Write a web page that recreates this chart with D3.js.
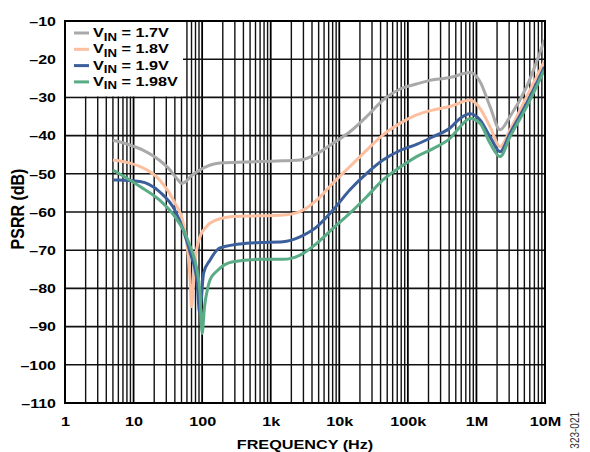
<!DOCTYPE html>
<html><head><meta charset="utf-8">
<script src="https://cdn.jsdelivr.net/npm/d3@7"></script>
<style>
html,body{margin:0;padding:0;background:#fff;}
svg{display:block;font-family:"Liberation Sans",Arial,sans-serif;}
</style></head>
<body>
<svg id="c" width="590" height="452"></svg>
<script>
// ---- data ----
const xTickValues = [1, 10, 100, 1e3, 1e4, 1e5, 1e6, 1e7];
const xTickLabels = ["1", "10", "100", "1k", "10k", "100k", "1M", "10M"];
const yTickValues = [-10, -20, -30, -40, -50, -60, -70, -80, -90, -100, -110];

const seriesNames = ["1.7V", "1.8V", "1.9V", "1.98V"];
const seriesColors = ["#a9a9a9", "#fcc0a0", "#3b5f9b", "#5aac86"];

const freq17 = [5, 8, 13.7, 20, 34, 44, 50, 58, 70, 93, 180, 700, 1500, 2670, 4690, 8090, 14300, 25100, 43400, 76800, 134000, 233000, 412000, 806000, 1.13e6, 1.58e6, 2.21e6, 3.09e6, 5.41e6, 9.8e6];
const psrr17 = [-41.2, -42.2, -43.8, -45.5, -49, -51.5, -52.5, -52, -50.5, -49, -47.2, -46.8, -46.6, -46.4, -44.8, -42, -39, -35, -30.7, -27.8, -26.5, -25.4, -24.8, -23.5, -25.9, -32.4, -38.5, -35, -27.2, -15];

const freq18 = [5, 8, 12.4, 24, 40, 53, 62, 67, 70, 74, 79, 93, 116, 130, 282, 698, 1510, 2670, 4690, 8090, 14300, 25100, 43400, 76800, 134000, 233000, 412000, 806000, 1.13e6, 1.58e6, 2.21e6, 3.09e6, 5.41e6, 9.8e6];
const psrr18 = [-46.4, -47, -48.1, -51.6, -57.6, -62.9, -70.7, -78, -84.8, -80, -72.6, -66.5, -63.8, -62.9, -61.2, -61, -60.8, -59.9, -56.9, -52.4, -48.1, -43.8, -39.8, -36.8, -34.6, -33.3, -32.4, -30.7, -32.9, -37.7, -42.9, -38.5, -29.8, -20.5];

const freq19 = [5, 6, 12.4, 24, 40, 53, 67, 84, 92, 97, 105, 130, 182, 446, 698, 1510, 2670, 4690, 8090, 14300, 25100, 43400, 76800, 134000, 233000, 412000, 576000, 806000, 1.13e6, 1.58e6, 2.21e6, 3.09e6, 5.41e6, 9.8e6];
const psrr19 = [-51.6, -51.6, -52, -54.7, -59.5, -64.7, -70.7, -78, -86.4, -83, -76, -72.6, -69.4, -68.2, -68, -67.8, -66.5, -63.9, -59.5, -54.2, -49.9, -46.4, -43.9, -42.3, -40.3, -38, -35.5, -34.3, -35.9, -40.3, -44.2, -39.4, -31.5, -22];

const freq198 = [5, 12.4, 24, 40, 53, 67, 84, 93, 100, 108, 122, 130, 163, 282, 698, 1510, 2670, 4690, 8090, 14300, 25100, 43400, 76800, 134000, 233000, 412000, 576000, 806000, 1.13e6, 1.58e6, 2.21e6, 3.09e6, 5.41e6, 9.8e6];
const psrr198 = [-49, -53.3, -56.9, -61.2, -64.7, -69, -75.2, -81, -91.8, -85, -79.5, -77.8, -75.5, -73, -72.4, -72.4, -71.3, -68.2, -64.3, -60.3, -56, -51.6, -48.3, -45.5, -43.4, -40.7, -37.7, -35.5, -36.8, -42, -45.5, -40.3, -32.4, -22.8];

const series = [
  {name: seriesNames[0], color: seriesColors[0], f: freq17, v: psrr17},
  {name: seriesNames[1], color: seriesColors[1], f: freq18, v: psrr18},
  {name: seriesNames[2], color: seriesColors[2], f: freq19, v: psrr19},
  {name: seriesNames[3], color: seriesColors[3], f: freq198, v: psrr198}
];

// ---- layout ----
const L = 65, R = 545, T = 21, B = 403;
const SX = 1.2; // horizontal text stretch seen in the reference
const svg = d3.select("#c");
const x = d3.scaleLog().domain([1, 1e7]).range([L, R]);
const y = d3.scaleLinear().domain([-110, -10]).range([B, T]);

// grid
const minor = [];
for (let d = 0; d < 7; d++) for (let k = 2; k <= 9; k++) minor.push(k * Math.pow(10, d));
const g = svg.append("g");
g.selectAll(".vmin").data(minor).join("line")
  .attr("x1", d => x(d)).attr("x2", d => x(d)).attr("y1", T).attr("y2", B)
  .attr("stroke", "#111").attr("stroke-width", 1.4);
g.selectAll(".vmaj").data(xTickValues).join("line")
  .attr("x1", d => x(d)).attr("x2", d => x(d)).attr("y1", T).attr("y2", B)
  .attr("stroke", "#000").attr("stroke-width", 1.8);
g.selectAll(".h").data(yTickValues).join("line")
  .attr("x1", L).attr("x2", R).attr("y1", d => y(d)).attr("y2", d => y(d))
  .attr("stroke", "#111").attr("stroke-width", 1.6);

// legend background
svg.append("rect").attr("x", L).attr("y", T).attr("width", 118).attr("height", y(-30) - T - 1)
  .attr("fill", "#fff");

// curves
const line = d3.line().x(d => x(d[0])).y(d => y(d[1])).curve(d3.curveMonotoneX);
series.forEach(s => {
  svg.append("path").datum(s.f.map((f, i) => [f, s.v[i]]))
    .attr("d", line).attr("fill", "none").attr("stroke", s.color)
    .attr("stroke-width", 3).attr("stroke-linejoin", "round");
});

// frame
svg.append("rect").attr("x", L).attr("y", T).attr("width", R - L).attr("height", B - T)
  .attr("fill", "none").attr("stroke", "#000").attr("stroke-width", 2);

// axes
const xAxis = d3.axisBottom(x).tickValues(xTickValues).tickFormat((d, i) => xTickLabels[i]).tickSize(0).tickPadding(0);
const xa = svg.append("g").attr("transform", `translate(0,${B})`).call(xAxis);
xa.select(".domain").remove();
xa.selectAll("text").attr("dy", null).attr("y", 23).attr("transform", `scale(${SX},1)`)
  .attr("font-size", 13.5).attr("font-weight", "bold")
  .attr("font-family", "Liberation Sans, Arial, sans-serif").attr("fill", "#000");

const yAxis = d3.axisLeft(y).tickValues(yTickValues).tickFormat(d => "\u2013" + Math.abs(d)).tickSize(0).tickPadding(7.5);
const ya = svg.append("g").attr("transform", `translate(${L},0)`).call(yAxis);
ya.select(".domain").remove();
ya.selectAll("text").attr("transform", `scale(${SX},1)`).attr("font-size", 13.3).attr("font-weight", "bold")
  .attr("font-family", "Liberation Sans, Arial, sans-serif").attr("fill", "#000");

// titles
svg.append("text").attr("transform", `translate(${(L + R) / 2},449) scale(${SX},1)`).attr("text-anchor", "middle")
  .attr("font-size", 13.5).attr("font-weight", "bold").text("FREQUENCY (Hz)");
svg.append("text").attr("transform", `translate(24,209) scale(${SX},1) rotate(-90)`).attr("text-anchor", "middle")
  .attr("font-size", 16).attr("font-weight", "bold").text("PSRR (dB)");
svg.append("text").attr("transform", `translate(579,412) scale(${SX},1) rotate(-90)`).attr("text-anchor", "end")
  .attr("font-size", 10).attr("fill", "#333").text("323-021");

// legend
const leg = svg.append("g");
series.forEach((s, i) => {
  const by = 37 + i * 16.3;
  leg.append("line").attr("x1", 74).attr("x2", 89).attr("y1", by - 4).attr("y2", by - 4)
    .attr("stroke", s.color).attr("stroke-width", 3);
  const t = leg.append("text").attr("transform", `translate(93,${by}) scale(${SX},1)`)
    .attr("font-size", 13.5).attr("font-weight", "bold");
  t.append("tspan").text("V");
  t.append("tspan").attr("font-size", 11).attr("dy", 3.5).text("IN");
  t.append("tspan").attr("dy", -3.5).text(" = " + s.name);
});
</script>
</body></html>
